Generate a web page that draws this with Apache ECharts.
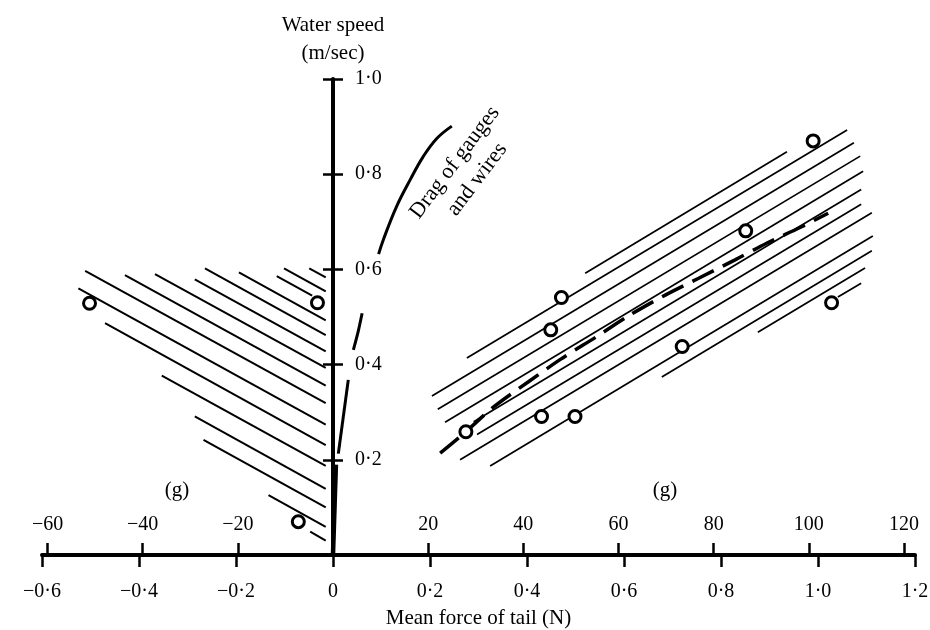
<!DOCTYPE html>
<html>
<head>
<meta charset="utf-8">
<script src="https://cdn.jsdelivr.net/npm/echarts@6/dist/echarts.min.js"></script>
<style>
  html, body { margin: 0; padding: 0; background: #fff; }
  #chart { width: 930px; height: 630px; }
</style>
</head>
<body>
<div id="chart"></div>
<script>
// ---------- data ----------
// x: mean force of tail (N), y: water speed (m/sec)
const forceTicksN = [-0.6, -0.4, -0.2, 0, 0.2, 0.4, 0.6, 0.8, 1.0, 1.2];
const gramTicks = [-60, -40, -20, 20, 40, 60, 80, 100, 120];
const speedTicks = [0.2, 0.4, 0.6, 0.8, 1.0];
const newtonsPerGram = 0.00981;

// measured points (open circles)
const circleX = [-0.502, -0.032, -0.0715, 0.274, 0.430, 0.499, 0.449, 0.471, 0.720, 0.851, 0.990, 1.028];
const circleY = [0.529, 0.530, 0.070, 0.259, 0.291, 0.291, 0.473, 0.541, 0.438, 0.681, 0.870, 0.530];

// dashed fitted line
const fitX = [0.221, 0.274, 0.33, 0.403, 0.472, 0.544, 0.612, 0.685, 0.753, 0.829, 0.894, 0.963, 1.021];
const fitY = [0.214, 0.259, 0.31, 0.364, 0.413, 0.459, 0.504, 0.546, 0.581, 0.620, 0.655, 0.688, 0.718];

// "Drag of gauges and wires" curve (drawn in broken pieces)
const dragLowX = [0.0, 0.006];
const dragLowY = [0.0, 0.19];
const dragMidX = [0.011, 0.0315];
const dragMidY = [0.213, 0.368];
const dragUpperX = [0.042, 0.052, 0.060];
const dragUpperY = [0.431, 0.47, 0.508];
const dragTopX = [0.094, 0.104, 0.131, 0.159, 0.186, 0.214, 0.245];
const dragTopY = [0.632, 0.663, 0.732, 0.788, 0.837, 0.875, 0.901];

// hatching, left region (start x, start y, end x, end y)
const leftHatchX1 = [-0.511, -0.525, -0.470, -0.429, -0.367, -0.353, -0.285, -0.264, -0.194, -0.116, -0.101, -0.049, -0.285, -0.267, -0.133, -0.047];
const leftHatchY1 = [0.597, 0.560, 0.487, 0.588, 0.590, 0.377, 0.579, 0.602, 0.594, 0.586, 0.602, 0.602, 0.291, 0.242, 0.126, 0.049];
const leftHatchX2 = [-0.015, -0.015, -0.015, -0.015, -0.015, -0.015, -0.015, -0.015, -0.015, -0.043, -0.015, -0.015, -0.015, -0.015, -0.015, -0.015];
const leftHatchY2 = [0.319, 0.274, 0.231, 0.356, 0.393, 0.187, 0.428, 0.462, 0.493, 0.545, 0.554, 0.583, 0.139, 0.100, 0.059, 0.030];

// hatching, right region
const rightHatchX1 = [0.520, 0.276, 0.204, 0.216, 0.231, 0.290, 0.297, 0.262, 0.324, 0.678, 0.876, 1.041];
const rightHatchY1 = [0.592, 0.414, 0.334, 0.306, 0.279, 0.280, 0.253, 0.200, 0.187, 0.374, 0.468, 0.542];
const rightHatchX2 = [0.936, 1.060, 1.074, 1.087, 1.093, 1.089, 1.089, 1.111, 1.113, 1.111, 1.097, 1.089];
const rightHatchY2 = [0.847, 0.893, 0.866, 0.838, 0.806, 0.768, 0.737, 0.719, 0.670, 0.639, 0.603, 0.571];

// ---------- helpers ----------
const SERIF = '"Liberation Serif", "DejaVu Serif", serif';
const zip = (xs, ys) => xs.map((x, i) => [x, ys[i]]);
const segs = (x1, y1, x2, y2) => x1.map((x, i) => ({ coords: [[x, y1[i]], [x2[i], y2[i]]] }));
const fmtN = v => {
  if (Math.abs(v) < 1e-9) return '0';
  return (v < 0 ? '\u2212' : '') + Math.abs(v).toFixed(1).replace('.', '\u00b7');
};
const fmtG = v => (v < 0 ? '\u2212' : '') + Math.abs(Math.round(v));

const GRID_LEFT = 42, GRID_RIGHT = 15;
const PLOT_W = 930 - GRID_LEFT - GRID_RIGHT;
const xMin = forceTicksN[0], xMax = forceTicksN[forceTicksN.length - 1];
// shift the speed axis so it sits at zero force
const yAxisOffset = -PLOT_W * (0 - xMin) / (xMax - xMin);

const chart = echarts.init(document.getElementById('chart'), null, { renderer: 'canvas' });

const axisLineStyle = { color: '#000', width: 4 };
const curveLine = (data, width, smooth) => ({
  type: 'line', z: 3, showSymbol: false, silent: true, smooth: smooth || false,
  lineStyle: { color: '#000', width: width },
  data: data
});

const option = {
  animation: false,
  backgroundColor: '#fff',
  grid: { left: GRID_LEFT, right: GRID_RIGHT, top: 79, bottom: 75, containLabel: false, outerBoundsMode: 'none' },
  xAxis: [
    {
      type: 'value',
      min: xMin,
      max: xMax,
      interval: 0.2,
      position: 'bottom',
      splitLine: { show: false },
      axisLine: { show: true, onZero: false, lineStyle: axisLineStyle },
      axisTick: { show: true, inside: false, length: 12, lineStyle: { color: '#000', width: 2.5 } },
      axisLabel: {
        show: true, margin: 27, formatter: fmtN,
        color: '#000', fontFamily: SERIF, fontSize: 20
      },
      name: 'Mean force of tail (N)',
      nameLocation: 'middle',
      nameGap: 53,
      nameTextStyle: { color: '#000', fontFamily: SERIF, fontSize: 21 }
    },
    {
      type: 'value',
      min: xMin / newtonsPerGram,
      max: xMax / newtonsPerGram,
      position: 'bottom',
      splitLine: { show: false },
      axisLine: { show: false, onZero: false },
      axisTick: {
        show: true, inside: true, length: 12, customValues: gramTicks,
        lineStyle: { color: '#000', width: 2.5 }
      },
      axisLabel: {
        show: true, inside: true, margin: 20, customValues: gramTicks, formatter: fmtG,
        color: '#000', fontFamily: SERIF, fontSize: 20
      }
    }
  ],
  yAxis: [
    {
      type: 'value',
      min: 0, max: 1, interval: 0.2,
      position: 'left',
      offset: yAxisOffset,
      splitLine: { show: false },
      axisLine: { show: true, onZero: false, lineStyle: axisLineStyle },
      axisTick: { show: true, inside: true, length: 10, lineStyle: { color: '#000', width: 2.5 } },
      axisLabel: {
        show: true, inside: true, margin: 22,
        customValues: speedTicks, formatter: fmtN,
        color: '#000', fontFamily: SERIF, fontSize: 20
      },
      name: 'Water speed\n(m/sec)',
      nameLocation: 'end',
      nameGap: 12,
      nameTextStyle: { color: '#000', fontFamily: SERIF, fontSize: 21, lineHeight: 28, align: 'center' }
    },
    {
      type: 'value',
      min: 0, max: 1, interval: 0.2,
      position: 'left',
      offset: yAxisOffset,
      splitLine: { show: false },
      axisLine: { show: false, onZero: false },
      axisTick: { show: true, inside: false, length: 10, customValues: speedTicks, lineStyle: { color: '#000', width: 2.5 } },
      axisLabel: { show: false }
    }
  ],
  graphic: [
    {
      type: 'text', x: 177, y: 490, z: 10,
      style: { text: '(g)', font: '21px ' + SERIF, fill: '#000', align: 'center', verticalAlign: 'middle', textAlign: 'center', textVerticalAlign: 'middle' }
    },
    {
      type: 'text', x: 665, y: 490, z: 10,
      style: { text: '(g)', font: '21px ' + SERIF, fill: '#000', align: 'center', verticalAlign: 'middle', textAlign: 'center', textVerticalAlign: 'middle' }
    },
    {
      type: 'text', x: 466, y: 171, z: 10,
      rotation: 53 * Math.PI / 180,
      style: {
        text: 'Drag of gauges\nand wires', font: '22px ' + SERIF, fill: '#000',
        align: 'center', verticalAlign: 'middle', textAlign: 'center', textVerticalAlign: 'middle', lineHeight: 28
      }
    }
  ],
  series: [
    {
      type: 'lines', coordinateSystem: 'cartesian2d', z: 2, silent: true,
      lineStyle: { color: '#000', width: 2, opacity: 1 },
      data: segs(leftHatchX1, leftHatchY1, leftHatchX2, leftHatchY2)
    },
    {
      type: 'lines', coordinateSystem: 'cartesian2d', z: 2, silent: true,
      lineStyle: { color: '#000', width: 1.7, opacity: 1 },
      data: segs(rightHatchX1, rightHatchY1, rightHatchX2, rightHatchY2)
    },
    {
      type: 'line', z: 3, showSymbol: false, smooth: 0.3, silent: true,
      lineStyle: { color: '#000', width: 3.5, type: [24, 10], cap: 'butt' },
      data: zip(fitX, fitY)
    },
    curveLine(zip(dragLowX, dragLowY), 4.5),
    curveLine(zip(dragMidX, dragMidY), 3),
    curveLine(zip(dragUpperX, dragUpperY), 3, 0.3),
    curveLine(zip(dragTopX, dragTopY), 3, 0.4),
    {
      type: 'scatter', z: 5, silent: true,
      symbol: 'circle', symbolSize: 12,
      itemStyle: { color: '#fff', borderColor: '#000', borderWidth: 3, opacity: 1 },
      data: zip(circleX, circleY)
    }
  ]
};

chart.setOption(option);
</script>
</body>
</html>
